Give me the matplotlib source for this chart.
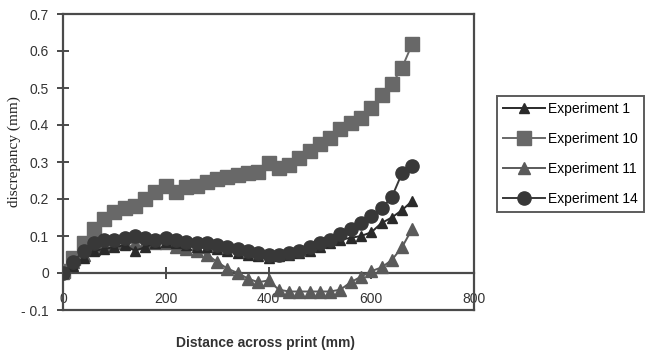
import matplotlib.pyplot as plt

# distance across print (mm)
distancia = [0, 20, 40, 60, 80, 100, 120, 140, 160, 180, 200, 220, 240, 260, 280, 300, 320,
             340, 360, 380, 400, 420, 440, 460, 480, 500, 520, 540, 560, 580, 600, 620, 640,
             660, 680]

exp1 = [0.0, 0.02, 0.04, 0.06, 0.065, 0.07, 0.075, 0.06, 0.07, 0.08, 0.085, 0.08, 0.075,
        0.07, 0.07, 0.065, 0.06, 0.055, 0.05, 0.045, 0.04, 0.045, 0.05, 0.055, 0.06, 0.07,
        0.08, 0.09, 0.095, 0.1, 0.11, 0.135, 0.15, 0.17, 0.195]

exp10 = [0.005, 0.04, 0.08, 0.12, 0.145, 0.165, 0.175, 0.18, 0.2, 0.22, 0.235, 0.22, 0.232,
         0.235, 0.246, 0.255, 0.26, 0.265, 0.27, 0.273, 0.297, 0.284, 0.292, 0.31, 0.33,
         0.35, 0.365, 0.39, 0.405, 0.42, 0.445, 0.48, 0.51, 0.555, 0.62]

exp11 = [0.0, 0.03, 0.05, 0.065, 0.075, 0.08, 0.085, 0.08, 0.085, 0.08, 0.08, 0.07, 0.065,
         0.06, 0.05, 0.03, 0.012, 0.0, -0.015, -0.025, -0.02, -0.045, -0.05, -0.05, -0.05,
         -0.05, -0.05, -0.045, -0.025, -0.01, 0.005, 0.015, 0.035, 0.07, 0.12]

exp14 = [0.0, 0.03, 0.06, 0.08, 0.09, 0.09, 0.095, 0.1, 0.095, 0.09, 0.095, 0.09, 0.085,
         0.08, 0.08, 0.075, 0.07, 0.065, 0.06, 0.055, 0.05, 0.05, 0.055, 0.06, 0.07, 0.08,
         0.09, 0.105, 0.12, 0.135, 0.155, 0.175, 0.205, 0.27, 0.29]

y_ticks = [-0.1, 0, 0.1, 0.2, 0.3, 0.4, 0.5, 0.6, 0.7]
y_rotulos = ['- 0.1', '0', '0.1', '0.2', '0.3', '0.4', '0.5', '0.6', '0.7']
x_ticks = [0, 200, 400, 600, 800]

cinza_eixo = '#4a4a4a'

fig = plt.figure(figsize=(6.45, 3.54), dpi=100)
ax = fig.add_axes([63 / 645, 44 / 354, 411 / 645, 296 / 354])

ax.plot(distancia, exp1, color='#2a2a2a', marker='^', markersize=7, lw=1.4,
        label='Experiment 1', zorder=4)
ax.plot(distancia, exp10, color='#686868', marker='s', markersize=9.5, lw=1.4,
        label='Experiment 10', zorder=3)
ax.plot(distancia, exp11, color='#5a5a5a', marker='^', markersize=9, lw=1.4,
        label='Experiment 11', zorder=3)
ax.plot(distancia, exp14, color='#383838', marker='o', markersize=9.5, lw=1.4,
        label='Experiment 14', zorder=4)

ax.set_xlim(0, 800)
ax.set_ylim(-0.1, 0.7)

# eixo x cruza em y = 0, como no Excel
ax.spines['bottom'].set_position(('data', 0))
for s in ax.spines.values():
    s.set_color(cinza_eixo)
    s.set_linewidth(1.6)
ax.axhline(-0.1, color=cinza_eixo, lw=1.6, clip_on=False)

ax.set_xticks(x_ticks)
ax.set_yticks(y_ticks)
ax.set_yticklabels(y_rotulos)
ax.tick_params(axis='both', direction='inout', length=8, width=1.4, color=cinza_eixo,
               labelsize=10, labelcolor='#333333')
ax.tick_params(axis='x', pad=10)
ax.tick_params(axis='y', pad=6)
for lbl in ax.get_xticklabels() + ax.get_yticklabels():
    lbl.set_family('Liberation Sans')

fig.text(14 / 645, 1 - 152 / 354, 'discrepancy (mm)', rotation=90, ha='center',
         va='center', family='Liberation Serif', fontsize=11, color='#222222')
fig.text(265 / 645, 1 - 343 / 354, 'Distance across print (mm)', ha='center',
         va='center', family='Liberation Sans', fontsize=10, fontweight='bold',
         color='#333333')

leg = fig.legend(loc='upper left', bbox_to_anchor=(497 / 645, 1 - 96 / 354),
                 frameon=True, fancybox=False, prop={'family': 'Liberation Sans', 'size': 10},
                 handlelength=3.0, borderpad=0.45, labelspacing=1.15, handletextpad=0.25,
                 borderaxespad=0)
leg.get_frame().set_edgecolor('#333333')
leg.get_frame().set_linewidth(1.4)

fig.savefig('out.png', dpi=100)
